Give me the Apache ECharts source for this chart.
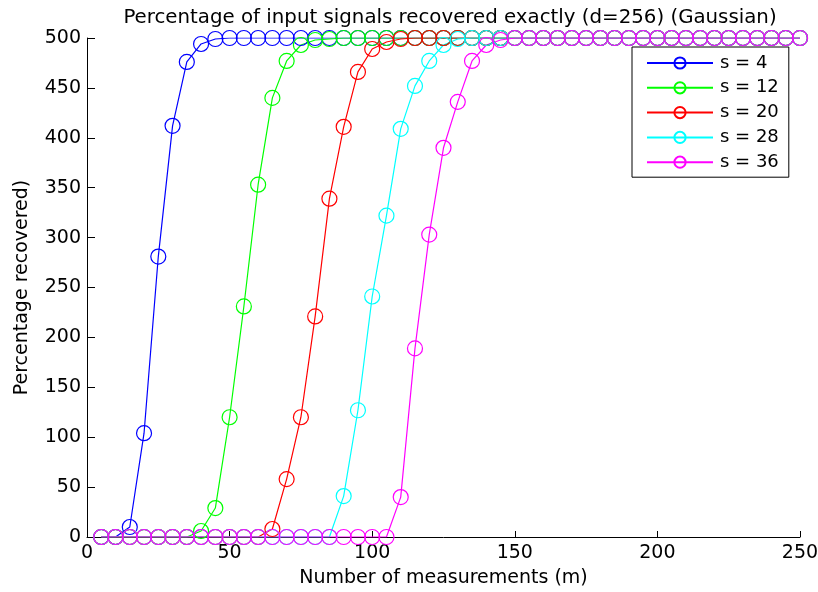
<!DOCTYPE html>
<html>
<head>
<meta charset="utf-8">
<script src="https://cdn.jsdelivr.net/npm/echarts@6/dist/echarts.min.js"></script>
<style>html,body{margin:0;padding:0;background:#fff}#c{width:818px;height:592px}</style>
</head>
<body>
<div id="c"></div>
<script>
// measurements m = 5, 10, ..., 250
const measurements = [5,10,15,20,25,30,35,40,45,50,55,60,65,70,75,80,85,90,95,100,105,110,115,120,125,130,135,140,145,150,155,160,165,170,175,180,185,190,195,200,205,210,215,220,225,230,235,240,245,250];
const seriesNames = ['s = 4','s = 12','s = 20','s = 28','s = 36'];
const s4  = [0,0,10,104,281,412,476,494,499,500,500,500,500,500,500,500,500,500,500,500,500,500,500,500,500,500,500,500,500,500,500,500,500,500,500,500,500,500,500,500,500,500,500,500,500,500,500,500,500,500];
const s12 = [0,0,0,0,0,0,0,6,29,120,231,353,440,477,493,498,499,500,500,500,500,500,500,500,500,500,500,500,500,500,500,500,500,500,500,500,500,500,500,500,500,500,500,500,500,500,500,500,500,500];
const s20 = [0,0,0,0,0,0,0,0,0,0,0,0,8,58,120,221,339,411,466,489,496,499,500,500,500,500,500,500,500,500,500,500,500,500,500,500,500,500,500,500,500,500,500,500,500,500,500,500,500,500];
const s28 = [0,0,0,0,0,0,0,0,0,0,0,0,0,0,0,0,0,41,127,241,322,409,452,477,493,499,500,500,500,500,500,500,500,500,500,500,500,500,500,500,500,500,500,500,500,500,500,500,500,500];
const s36 = [0,0,0,0,0,0,0,0,0,0,0,0,0,0,0,0,0,0,0,0,0,40,189,303,390,436,477,493,498,500,500,500,500,500,500,500,500,500,500,500,500,500,500,500,500,500,500,500,500,500];
const allValues = [s4, s12, s20, s28, s36];
const colors = ['#0000ff','#00ff00','#ff0000','#00ffff','#ff00ff'];
const xTicks = [0,50,100,150,200,250];
const yTicks = [0,50,100,150,200,250,300,350,400,450,500];

const FONT = 'DejaVu Sans';
const chart = echarts.init(document.getElementById('c'), null, {renderer:'canvas'});
const series = allValues.map((vals, i) => ({
  name: seriesNames[i],
  type: 'line',
  data: measurements.map((m, j) => [m, vals[j]]),
  symbol: 'circle',
  symbolSize: 15,
  showAllSymbol: true,
  animation: false,
  lineStyle: {color: colors[i], width: 1.2},
  itemStyle: {color: 'rgba(255,255,255,0)', borderColor: colors[i], borderWidth: 1.2},
  emphasis: {disabled: true}
}));

chart.setOption({
  animation: false,
  backgroundColor: '#fff',
  title: {
    text: 'Percentage of input signals recovered exactly (d=256) (Gaussian)',
    left: 445, top: 3, textAlign: 'center',
    textStyle: {fontFamily: FONT, fontSize: 19.8, fontWeight: 'normal', color: '#000'}
  },
  legend: {
    data: seriesNames,
    orient: 'vertical',
    left: 632, top: 47,
    padding: [7, 10, 6, 14],
    itemWidth: 66, itemHeight: 14, itemGap: 6.8,
    backgroundColor: '#fff',
    borderColor: '#000', borderWidth: 1,
    textStyle: {fontFamily: FONT, fontSize: 18, color: '#000', lineHeight: 14, padding: [0,0,0,2]},
    selectedMode: false
  },
  grid: {left: 87, right: 18, top: 38, bottom: 55, outerBoundsMode: 'none', containLabel: false},
  xAxis: {
    type: 'value', min: 0, max: 250, interval: 50,
    name: 'Number of measurements (m)', nameLocation: 'middle', nameGap: 32,
    nameTextStyle: {fontFamily: FONT, fontSize: 19, color: '#000'},
    axisLine: {show: true, lineStyle: {color: '#000', width: 1}},
    axisTick: {show: true, inside: true, length: 6, lineStyle: {color: '#000'}},
    axisLabel: {fontFamily: FONT, fontSize: 19, color: '#000', margin: 7,
      formatter: v => xTicks.includes(v) ? String(v) : ''},
    splitLine: {show: false}
  },
  yAxis: {
    type: 'value', min: 0, max: 500, interval: 50,
    name: 'Percentage recovered)', nameLocation: 'middle', nameGap: 55,
    nameTextStyle: {fontFamily: FONT, fontSize: 19, color: '#000'},
    axisLine: {show: true, lineStyle: {color: '#000', width: 1}},
    axisTick: {show: true, inside: true, length: 8, lineStyle: {color: '#000'}},
    axisLabel: {fontFamily: FONT, fontSize: 19, color: '#000', margin: 6,
      formatter: v => yTicks.includes(v) ? String(v) : ''},
    splitLine: {show: false}
  },
  series: series
});
</script>
</body>
</html>
